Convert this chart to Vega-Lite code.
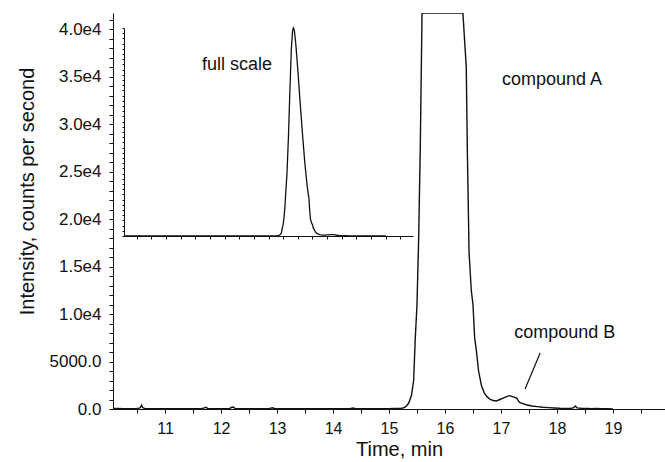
{
  "$schema": "https://vega.github.io/schema/vega-lite/v6.json",
  "width": 552,
  "height": 396,
  "autosize": {"type": "none"},
  "padding": {"left": 113, "top": 13, "right": 0, "bottom": 53},
  "background": "white",
  "config": {
    "view": {"stroke": null},
    "font": "Liberation Sans",
    "axis": {"grid": false, "domainColor": "#111", "tickColor": "#111", "labelColor": "#111", "titleColor": "#111", "labelFont": "Liberation Sans", "titleFont": "Liberation Sans", "titleFontWeight": "normal"}
  },
  "datasets": {
    "trace": [
      {"t": 10.07, "v": 60}, {"t": 10.15, "v": 50}, {"t": 10.25, "v": 40}, {"t": 10.35, "v": 30}, {"t": 10.45, "v": 40},
      {"t": 10.52, "v": 50}, {"t": 10.56, "v": 150}, {"t": 10.58, "v": 400}, {"t": 10.60, "v": 150}, {"t": 10.64, "v": 40},
      {"t": 10.75, "v": 30}, {"t": 10.85, "v": 40}, {"t": 10.95, "v": 30}, {"t": 11.05, "v": 20}, {"t": 11.2, "v": 30},
      {"t": 11.35, "v": 20}, {"t": 11.5, "v": 40}, {"t": 11.65, "v": 30}, {"t": 11.70, "v": 120}, {"t": 11.73, "v": 180},
      {"t": 11.76, "v": 60}, {"t": 11.9, "v": 30}, {"t": 12.05, "v": 20}, {"t": 12.15, "v": 40}, {"t": 12.19, "v": 180},
      {"t": 12.22, "v": 200}, {"t": 12.25, "v": 50}, {"t": 12.4, "v": 30}, {"t": 12.55, "v": 20}, {"t": 12.7, "v": 30},
      {"t": 12.85, "v": 40}, {"t": 12.92, "v": 130}, {"t": 12.96, "v": 40}, {"t": 13.1, "v": 20}, {"t": 13.3, "v": 30},
      {"t": 13.5, "v": 20}, {"t": 13.7, "v": 30}, {"t": 13.9, "v": 20}, {"t": 14.1, "v": 30}, {"t": 14.3, "v": 40},
      {"t": 14.36, "v": 110}, {"t": 14.4, "v": 40}, {"t": 14.6, "v": 30}, {"t": 14.8, "v": 20}, {"t": 15.0, "v": 40},
      {"t": 15.1, "v": 50}, {"t": 15.2, "v": 70}, {"t": 15.25, "v": 110}, {"t": 15.30, "v": 250}, {"t": 15.35, "v": 600},
      {"t": 15.40, "v": 1400}, {"t": 15.44, "v": 3000}, {"t": 15.47, "v": 7500}, {"t": 15.50, "v": 11000}, {"t": 15.53, "v": 18000},
      {"t": 15.56, "v": 28000}, {"t": 15.59, "v": 42000}, {"t": 15.63, "v": 60000}, {"t": 15.68, "v": 95000}, {"t": 15.73, "v": 140000},
      {"t": 15.78, "v": 180000}, {"t": 15.82, "v": 197000}, {"t": 15.85, "v": 200000}, {"t": 15.88, "v": 198000}, {"t": 15.93, "v": 185000},
      {"t": 16.00, "v": 160000}, {"t": 16.08, "v": 128000}, {"t": 16.16, "v": 98000}, {"t": 16.24, "v": 70000}, {"t": 16.32, "v": 48000},
      {"t": 16.38, "v": 36000}, {"t": 16.40, "v": 27000}, {"t": 16.43, "v": 16500}, {"t": 16.47, "v": 12500}, {"t": 16.50, "v": 11000},
      {"t": 16.53, "v": 7500}, {"t": 16.56, "v": 6200}, {"t": 16.60, "v": 4000}, {"t": 16.65, "v": 2500}, {"t": 16.70, "v": 1700},
      {"t": 16.75, "v": 1300}, {"t": 16.80, "v": 1050}, {"t": 16.86, "v": 900}, {"t": 16.92, "v": 850}, {"t": 16.98, "v": 1000},
      {"t": 17.04, "v": 1150}, {"t": 17.10, "v": 1300}, {"t": 17.15, "v": 1400}, {"t": 17.18, "v": 1350}, {"t": 17.23, "v": 1250},
      {"t": 17.28, "v": 1150}, {"t": 17.33, "v": 700}, {"t": 17.38, "v": 600}, {"t": 17.45, "v": 450}, {"t": 17.55, "v": 320},
      {"t": 17.65, "v": 250}, {"t": 17.75, "v": 180}, {"t": 17.85, "v": 140}, {"t": 17.95, "v": 110}, {"t": 18.05, "v": 80},
      {"t": 18.15, "v": 70}, {"t": 18.25, "v": 60}, {"t": 18.30, "v": 150}, {"t": 18.33, "v": 320}, {"t": 18.36, "v": 120},
      {"t": 18.45, "v": 60}, {"t": 18.55, "v": 70}, {"t": 18.62, "v": 40}, {"t": 18.7, "v": 50}, {"t": 18.8, "v": 30},
      {"t": 18.9, "v": 40}, {"t": 19.0, "v": 10}
    ],
    "notes": [
      {"t": 17.91, "v": 34640, "label": "compound A"},
      {"t": 18.14, "v": 8000, "label": "compound B"},
      {"t": 12.285, "v": 36200, "label": "full scale"}
    ],
    "pointer": [
      {"t": 17.70, "v": 5900, "t2": 17.43, "v2": 2100}
    ]
  },
  "layer": [
    {
      "data": {"name": "trace"},
      "mark": {"type": "line", "color": "#111", "strokeWidth": 1.4, "clip": true},
      "encoding": {
        "x": {
          "field": "t", "type": "quantitative",
          "scale": {"domain": [10.07, 19.93], "nice": false, "zero": false},
          "axis": {
            "orient": "bottom",
            "title": "Time, min", "titleFontSize": 20, "titlePadding": 3, "titleX": 286,
            "values": [10.5, 11, 11.5, 12, 12.5, 13, 13.5, 14, 14.5, 15, 15.5, 16, 16.5, 17, 17.5, 18, 18.5, 19, 19.5],
            "labelExpr": "datum.value % 1 === 0 ? format(datum.value, 'd') : ''",
            "labelFontSize": 16, "labelPadding": 7, "tickSize": 4, "labelFlush": false, "labelOverlap": false
          }
        },
        "y": {
          "field": "v", "type": "quantitative",
          "scale": {"domain": [0, 41700], "nice": false, "zero": true, "clamp": true},
          "axis": {
            "orient": "left",
            "title": "Intensity, counts per second", "titleFontSize": 20, "titlePadding": 12, "titleY": 178,
            "values": [0,1000,2000,3000,4000,5000,6000,7000,8000,9000,10000,11000,12000,13000,14000,15000,16000,17000,18000,19000,20000,21000,22000,23000,24000,25000,26000,27000,28000,29000,30000,31000,32000,33000,34000,35000,36000,37000,38000,39000,40000,41000],
            "labelExpr": "datum.value % 5000 === 0 ? (datum.value === 0 ? '0.0' : (datum.value === 5000 ? '5000.0' : format(datum.value / 10000, '.1f') + 'e4')) : ''",
            "labelFontSize": 17, "labelPadding": 8, "tickSize": 4, "labelFlush": false, "labelOverlap": false
          }
        }
      }
    },
    {
      "data": {"name": "notes"},
      "mark": {"type": "text", "align": "center", "baseline": "middle", "fontSize": 18, "font": "Liberation Sans", "color": "#111"},
      "encoding": {
        "x": {"field": "t", "type": "quantitative", "scale": {"domain": [10.07, 19.93], "nice": false, "zero": false}, "axis": null},
        "y": {"field": "v", "type": "quantitative", "scale": {"domain": [0, 41700], "nice": false, "zero": true}, "axis": null},
        "text": {"field": "label"}
      }
    },
    {
      "data": {"name": "pointer"},
      "mark": {"type": "rule", "color": "#111", "strokeWidth": 1.2},
      "encoding": {
        "x": {"field": "t", "type": "quantitative", "scale": {"domain": [10.07, 19.93], "nice": false, "zero": false}, "axis": null},
        "y": {"field": "v", "type": "quantitative", "scale": {"domain": [0, 41700], "nice": false, "zero": true}, "axis": null},
        "x2": {"field": "t2"},
        "y2": {"field": "v2"}
      }
    },
    {
      "data": {"name": "trace"},
      "mark": {"type": "line", "color": "#111", "strokeWidth": 1.3},
      "encoding": {
        "x": {
          "field": "t", "type": "quantitative",
          "scale": {"domain": [10.07, 19.93], "range": [11, 300], "nice": false, "zero": false},
          "axis": {"orient": "bottom", "offset": -173, "title": null, "labels": false, "tickSize": 3,
                   "values": [10.5, 11, 11.5, 12, 12.5, 13, 13.5, 14, 14.5, 15, 15.5, 16, 16.5, 17, 17.5, 18, 18.5, 19, 19.5]}
        },
        "y": {
          "field": "v", "type": "quantitative",
          "scale": {"domain": [0, 200000], "range": [223, 15], "nice": false, "zero": true},
          "axis": {"orient": "left", "offset": -11, "title": null, "labels": false, "tickSize": 2,
                   "values": [0,5000,10000,15000,20000,25000,30000,35000,40000,45000,50000,55000,60000,65000,70000,75000,80000,85000,90000,95000,100000,105000,110000,115000,120000,125000,130000,135000,140000,145000,150000,155000,160000,165000,170000,175000,180000,185000,190000,195000,200000]}
        }
      }
    }
  ],
  "resolve": {"scale": {"x": "independent", "y": "independent"}, "axis": {"x": "independent", "y": "independent"}}
}
